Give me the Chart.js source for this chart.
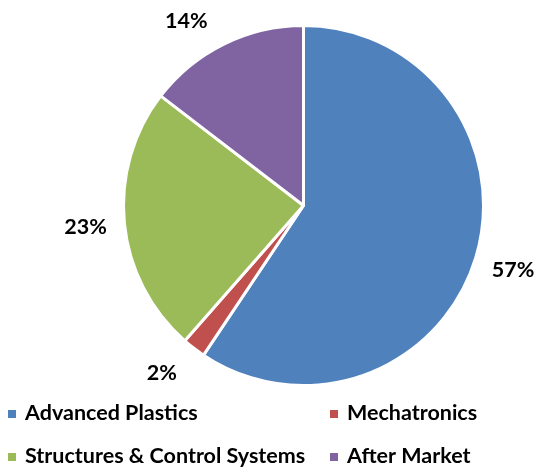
<!DOCTYPE html>
<html>
<head>
<meta charset="utf-8">
<script src="https://cdn.jsdelivr.net/npm/chart.js@4/dist/chart.umd.min.js"></script>
<style>
  html, body { margin: 0; padding: 0; background: #fff; }
  #wrap { width: 537px; height: 470px; }
</style>
</head>
<body>
<div id="wrap"><canvas id="pie"></canvas></div>
<script>
var categories = ['Advanced Plastics', 'Mechatronics', 'Structures & Control Systems', 'After Market'];
var shares = [57, 2, 23, 14];
var sliceColors = ['#4F81BD', '#C0504D', '#9BBB59', '#8064A2'];

var FONT = 'bold 21.5px Lato, "DejaVu Sans", sans-serif';
var CAP = 15;            // cap height of FONT, px
var LABEL_TOP = 13;      // labels stay between these two lines
var LABEL_BOTTOM = 380;

// percentage labels outside each slice; a label that would leave the
// plot band slides round the circle until it fits
var outsideLabels = {
    id: 'outsideLabels',
    afterDatasetsDraw: function (chart) {
        var ctx = chart.ctx;
        var meta = chart.getDatasetMeta(0);
        var values = chart.data.datasets[0].data;
        ctx.save();
        ctx.font = FONT;
        ctx.fillStyle = '#000';
        ctx.textAlign = 'center';
        ctx.textBaseline = 'alphabetic';
        meta.data.forEach(function (arc, i) {
            var p = arc.getProps(['x', 'y', 'startAngle', 'endAngle', 'outerRadius'], true);
            var mid = (p.startAngle + p.endAngle) / 2;
            var dist = p.outerRadius + 39;
            var cos = Math.cos(mid), sin = Math.sin(mid);
            var cy = p.y + sin * dist;
            var minY = LABEL_TOP + CAP / 2, maxY = LABEL_BOTTOM - CAP / 2;
            if (cy < minY || cy > maxY) {
                cy = Math.min(Math.max(cy, minY), maxY);
                sin = (cy - p.y) / dist;
                cos = (cos < 0 ? -1 : 1) * Math.sqrt(1 - sin * sin);
            }
            var cx = p.x + cos * dist;
            ctx.fillText(values[i] + '%', cx, cy + CAP / 2);
        });
        ctx.restore();
    }
};

// two-column legend under the pie
var gridLegend = {
    id: 'gridLegend',
    afterDraw: function (chart) {
        var ctx = chart.ctx;
        var cols = [8, 330];
        var rows = [420, 463];
        ctx.save();
        ctx.font = FONT;
        ctx.textAlign = 'left';
        ctx.textBaseline = 'alphabetic';
        chart.data.labels.forEach(function (label, i) {
            var x = cols[i % 2];
            var y = rows[Math.floor(i / 2)];
            ctx.fillStyle = chart.data.datasets[0].backgroundColor[i];
            ctx.fillRect(x, y - 10, 8, 8);
            ctx.fillStyle = '#000';
            ctx.fillText(label, x + 17, y);
        });
        ctx.restore();
    }
};

var ctx = document.getElementById('pie').getContext('2d');
var chart = new Chart(ctx, {
    type: 'pie',
    data: {
        labels: categories,
        datasets: [{
            data: shares,
            backgroundColor: sliceColors,
            borderColor: '#fff',
            borderWidth: 3
        }]
    },
    options: {
        responsive: true,
        maintainAspectRatio: false,
        animation: false,
        layout: {
            padding: { top: 24, bottom: 83, left: 122, right: 52 }
        },
        plugins: {
            legend: { display: false },
            tooltip: { enabled: false }
        }
    },
    plugins: [outsideLabels, gridLegend]
});
</script>
</body>
</html>
